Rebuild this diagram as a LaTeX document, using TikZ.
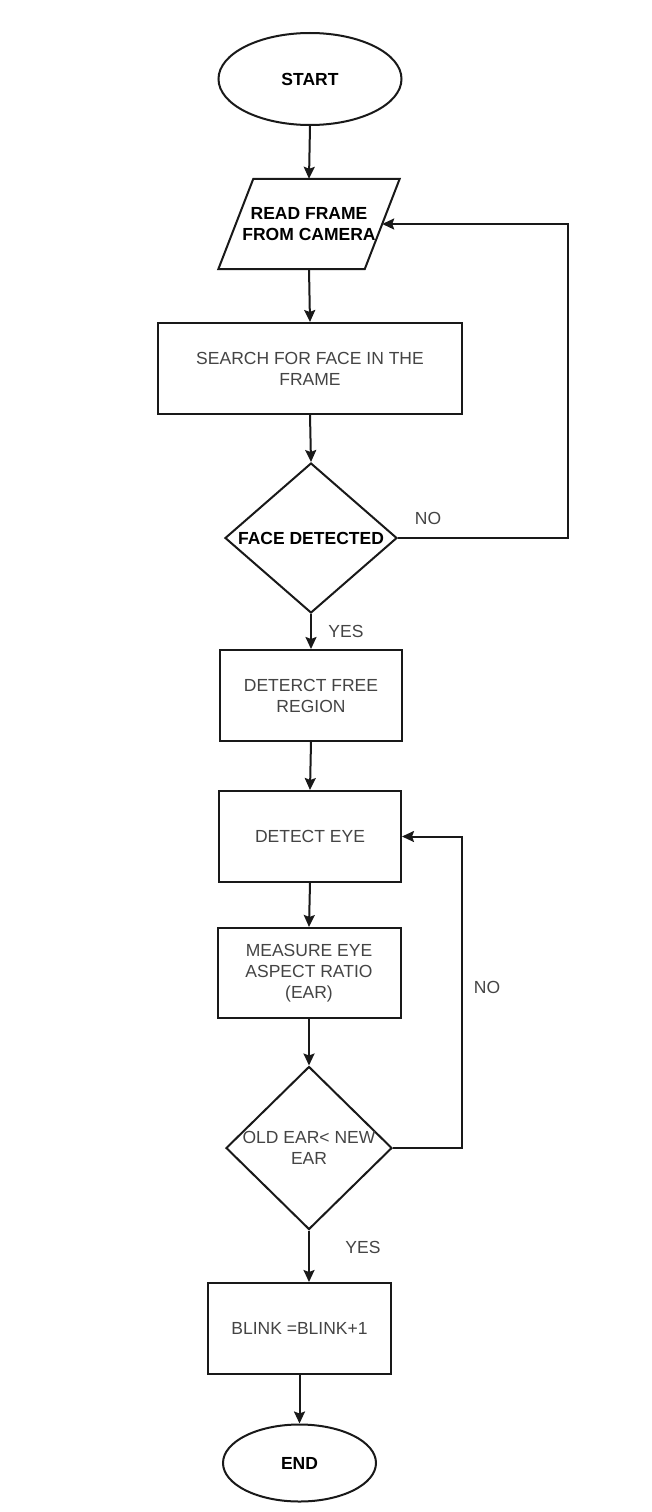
\documentclass[tikz,border=0pt]{standalone}
\usepackage{fontspec}
\setmainfont{Liberation Sans}
\usetikzlibrary{shapes.geometric,arrows.meta,calc}
\definecolor{txt}{HTML}{444444}
\newcommand{\myfs}{\fontsize{17.5}{21}\selectfont}
\begin{document}
\begin{tikzpicture}[x=1pt,y=-1pt,
  every node/.style={font=\myfs, text=txt},
  line/.style={line width=2pt, draw=black!90},
  box/.style={rectangle, draw=black!90, line width=2pt, align=center, inner sep=0pt},
  term/.style={ellipse, draw=black!90, line width=2pt, inner sep=0pt, font=\myfs\bfseries, text=black},
  dec/.style={diamond, draw=black!90, line width=2pt, inner sep=0pt, align=center},
  arr/.style={line width=2pt, draw=black!90, -{Stealth[length=12pt,width=11pt,inset=2pt]}},
  lbl/.style={text=txt}
]
\useasboundingbox (0,0) rectangle (651,1512);
\fill[white] (0,0) rectangle (651,1512);

\node[term, minimum width=183, minimum height=92] (start) at (310,79) {START};
\node[align=center, minimum width=146, minimum height=90, inner sep=0pt, font=\myfs\bfseries, text=black] (read) at (309,224) {READ FRAME\\FROM CAMERA};
\draw[line] ([xshift=17.5pt]read.north west) -- ([xshift=17.5pt]read.north east) -- ([xshift=-17.5pt]read.south east) -- ([xshift=-17.5pt]read.south west) -- cycle;

\node[box, minimum width=304, minimum height=91] (search) at (310,368.5) {SEARCH FOR FACE IN THE\\FRAME};
\node[dec, minimum width=172, minimum height=150, aspect=1.15, font=\myfs\bfseries, text=black] (face) at (311,538) {FACE DETECTED};
\node[box, minimum width=182, minimum height=91] (free) at (311,695.5) {DETERCT FREE\\REGION};
\node[box, minimum width=182, minimum height=91] (eye) at (310,836.5) {DETECT EYE};
\node[box, minimum width=183, minimum height=90] (measure) at (309,973) {MEASURE EYE\\ASPECT RATIO\\(EAR)};
\node[dec, minimum width=166, minimum height=163, aspect=1.02, inner xsep=-7pt] (ear) at (309,1148) {OLD EAR< NEW\\EAR};
\node[box, minimum width=183, minimum height=91] (blink) at (299.5,1328.5) {BLINK =BLINK+1};
\node[term, minimum width=153, minimum height=77] (end) at (299.5,1463) {END};

\draw[arr] (start.south) -- (read.north);
\draw[arr] (read.south) -- (search.north);
\draw[arr] (search.south) -- (face.north);
\draw[arr] (face.south) -- (free.north);
\draw[arr] (free.south) -- (eye.north);
\draw[arr] (eye.south) -- (measure.north);
\draw[arr] (measure.south) -- (ear.north);
\draw[arr] (ear.south) -- (ear.south |- blink.north);
\draw[arr] (blink.south) -- (end.north);

\coordinate (loopA) at (568,538);
\coordinate (loopB) at (462,1148);
\draw[arr] (face.east) -- (face.east -| loopA) -- (read.east -| loopA) -- (read.east);
\draw[arr] (ear.east) -- (ear.east -| loopB) -- (eye.east -| loopB) -- (eye.east);

\node[lbl] (no1) at (428,518) {NO};
\node[lbl] (yes1) at (346,631) {YES};
\node[lbl] (no2) at (487,987) {NO};
\node[lbl] (yes2) at (363,1247) {YES};
\end{tikzpicture}
\end{document}
